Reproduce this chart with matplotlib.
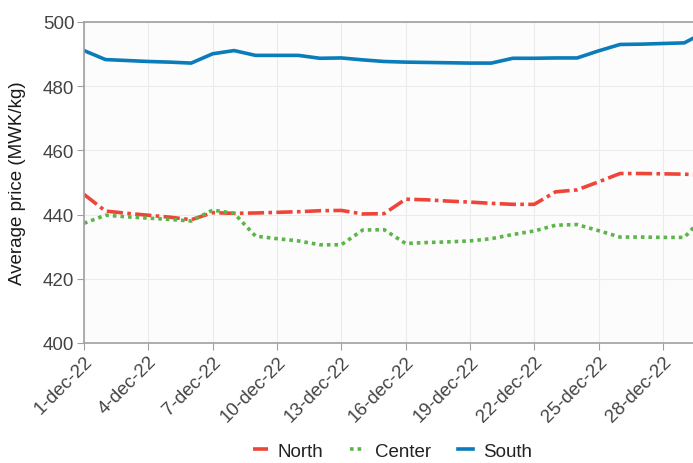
import matplotlib.pyplot as plt

plt.rcParams["font.family"] = ["Liberation Sans", "DejaVu Sans"]

days = list(range(1, 31))
tick_days = [1, 4, 7, 10, 13, 16, 19, 22, 25, 28]
tick_labels = [f"{d}-dec-22" for d in tick_days]

north = [446.3, 441.1, 440.4, 439.8, 439.2, 438.4, 440.6, 440.4, 440.5, 440.7,
         440.9, 441.2, 441.3, 440.2, 440.3, 444.8, 444.6, 444.2, 443.9, 443.5,
         443.2, 443.2, 447.1, 447.7, 450.2, 452.8, 452.8, 452.7, 452.6, 452.2]
center = [437.3, 439.8, 439.3, 438.9, 438.5, 438.0, 441.4, 440.4, 433.3, 432.5,
          431.8, 430.6, 430.6, 435.2, 435.3, 431.0, 431.3, 431.5, 431.8, 432.5,
          433.8, 434.9, 436.7, 436.9, 435.0, 433.0, 433.0, 432.9, 432.9, 440.0]
south = [491.1, 488.3, 488.0, 487.7, 487.5, 487.2, 490.1, 491.1, 489.6, 489.6,
         489.6, 488.7, 488.8, 488.2, 487.7, 487.5, 487.4, 487.3, 487.2, 487.2,
         488.7, 488.7, 488.8, 488.8, 491.0, 493.0, 493.1, 493.3, 493.5, 497.0]

W, H = 693, 464
fig = plt.figure(figsize=(W / 100, H / 100), dpi=100)
ax = fig.add_axes([84 / W, (H - 344) / H, (W - 84) / W, (344 - 23) / H])
ax.set_facecolor("#fcfcfc")

ax.plot(days, north, color="#ef4539", lw=2.6, dashes=(4.5, 1.2, 1, 1.2),
        dash_capstyle="butt", label="North")
ax.plot(days, center, color="#5bb548", lw=2.6, dashes=(1, 1.1),
        dash_capstyle="butt", label="Center")
ax.plot(days, south, color="#0a7cba", lw=2.6, label="South")

ax.set_xlim(1, 1 + (W - 84) / 21.44)
ax.set_ylim(400, 500)
ax.set_yticks([400, 420, 440, 460, 480, 500])
ax.set_xticks(tick_days)
ax.set_xticklabels(tick_labels, rotation=45, ha="right", rotation_mode="anchor")
ax.grid(True, color="#ebebeb", lw=0.8)
ax.set_axisbelow(True)

for s in ["left", "bottom", "top"]:
    ax.spines[s].set_color("#a0a0a0")
    ax.spines[s].set_linewidth(1.2)
ax.spines["right"].set_visible(False)
ax.tick_params(colors="#a0a0a0", labelcolor="#444444", labelsize=13.5,
               length=5, pad=2)
ax.set_ylabel("Average price (MWK/kg)", fontsize=13.5, color="#1a1a1a")
ax.yaxis.set_label_coords(-0.095, 0.5)

fig.legend(loc="lower center", bbox_to_anchor=(0.566, -0.03), ncol=3, frameon=False,
           fontsize=13.5, handlelength=0.8, columnspacing=1.4, handletextpad=0.55,
           labelcolor="#222222")

fig.savefig("out.png", dpi=100)
